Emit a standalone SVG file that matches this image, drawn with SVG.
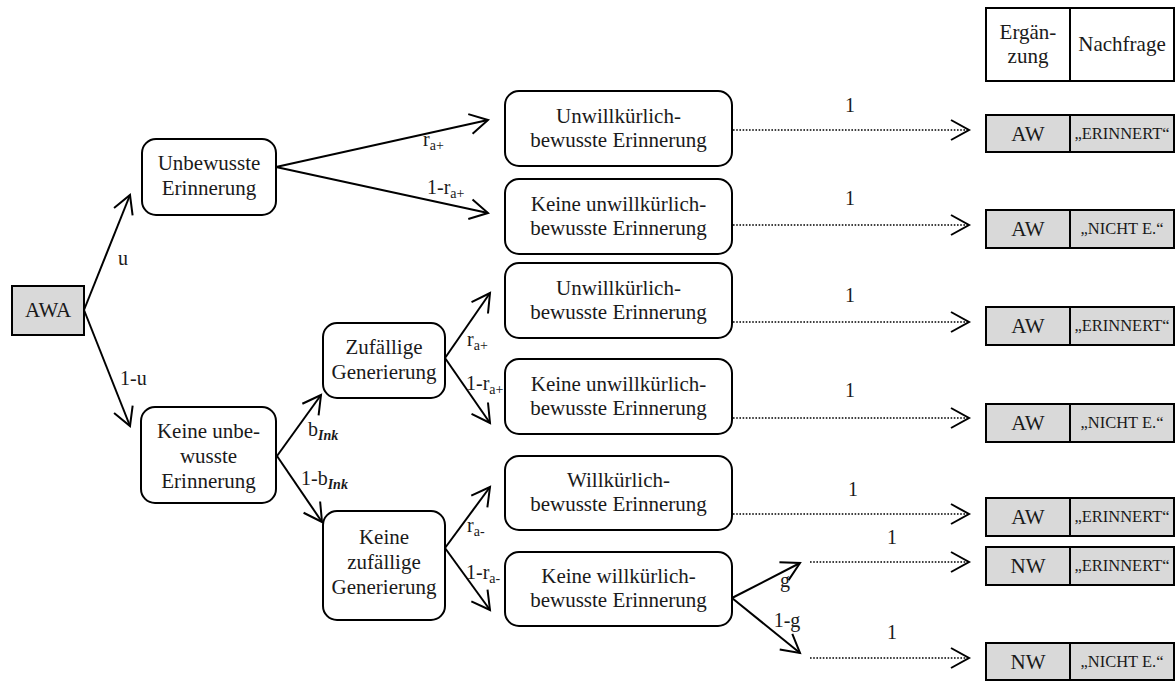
<svg xmlns="http://www.w3.org/2000/svg" width="1176" height="682" viewBox="0 0 1176 682">
  <style>
    text { font-family: "Liberation Serif", "Times New Roman", serif; font-size: 21px; fill: #1a1a1a; }
    .c { text-anchor: middle; }
    .box { fill: #ffffff; stroke: #000000; stroke-width: 2; }
    .grey { fill: #d9d9d9; stroke: #000000; stroke-width: 2; }
    .cell { fill: #d9d9d9; stroke: #000000; stroke-width: 2; }
    .head { fill: #ffffff; stroke: #000000; stroke-width: 2; }
    .small { font-size: 16.5px; }
    .lbl { font-size: 20px; }
    .sub { font-size: 14px; }
    .ink { font-size: 14px; font-style: italic; font-weight: bold; }
    .edge { stroke: #000000; stroke-width: 2; fill: none; marker-end: url(#open); }
    .dot { stroke: #000000; stroke-width: 1.6; stroke-dasharray: 1.6 1.6; fill: none; marker-end: url(#open); }
  </style>
  <defs>
    <marker id="open" viewBox="0 0 20 22" refX="19" refY="11" markerWidth="20" markerHeight="22" markerUnits="userSpaceOnUse" orient="auto" overflow="visible">
      <path d="M1,1 L19,11 L1,21" fill="none" stroke="#000000" stroke-width="2"/>
    </marker>
  </defs>

  <!-- column header of the outcome table -->
  <g id="header">
    <rect class="head" x="986" y="8" width="84" height="73"/>
    <rect class="head" x="1070" y="8" width="104" height="73"/>
    <text class="c" x="1028" y="39">Ergän-</text>
    <text class="c" x="1028" y="63">zung</text>
    <text class="c" x="1122" y="51">Nachfrage</text>
  </g>

  <!-- tree nodes -->
  <g id="awa">
    <rect class="grey" x="12" y="286" width="72" height="49"/>
    <text class="c" x="48" y="317">AWA</text>
  </g>
  <g id="unbewusst">
    <rect class="box" x="142" y="139" width="134" height="76" rx="14"/>
    <text class="c" x="209" y="170">Unbewusste</text>
    <text class="c" x="209" y="195">Erinnerung</text>
  </g>
  <g id="keine-unbewusst">
    <rect class="box" x="141" y="407" width="135" height="96" rx="14"/>
    <text class="c" x="208.5" y="438">Keine unbe-</text>
    <text class="c" x="208.5" y="463">wusste</text>
    <text class="c" x="208.5" y="488">Erinnerung</text>
  </g>
  <g id="zufaellig">
    <rect class="box" x="323" y="323" width="122" height="75" rx="14"/>
    <text class="c" x="384" y="354">Zufällige</text>
    <text class="c" x="384" y="379">Generierung</text>
  </g>
  <g id="keine-zufaellig">
    <rect class="box" x="323" y="511" width="122" height="109" rx="14"/>
    <text class="c" x="384" y="544">Keine</text>
    <text class="c" x="384" y="569">zufällige</text>
    <text class="c" x="384" y="594">Generierung</text>
  </g>

  <g id="uwb-1">
    <rect class="box" x="505" y="91" width="227" height="75" rx="14"/>
    <text class="c" x="618.5" y="123">Unwillkürlich-</text>
    <text class="c" x="618.5" y="147">bewusste Erinnerung</text>
  </g>
  <g id="keine-uwb-1">
    <rect class="box" x="505" y="179" width="227" height="75" rx="14"/>
    <text class="c" x="618.5" y="211">Keine unwillkürlich-</text>
    <text class="c" x="618.5" y="235">bewusste Erinnerung</text>
  </g>
  <g id="uwb-2">
    <rect class="box" x="505" y="263" width="227" height="75" rx="14"/>
    <text class="c" x="618.5" y="295">Unwillkürlich-</text>
    <text class="c" x="618.5" y="319">bewusste Erinnerung</text>
  </g>
  <g id="keine-uwb-2">
    <rect class="box" x="505" y="359" width="227" height="75" rx="14"/>
    <text class="c" x="618.5" y="391">Keine unwillkürlich-</text>
    <text class="c" x="618.5" y="415">bewusste Erinnerung</text>
  </g>
  <g id="wb">
    <rect class="box" x="505" y="456" width="227" height="74" rx="14"/>
    <text class="c" x="618.5" y="487">Willkürlich-</text>
    <text class="c" x="618.5" y="511">bewusste Erinnerung</text>
  </g>
  <g id="keine-wb">
    <rect class="box" x="505" y="552" width="227" height="74" rx="14"/>
    <text class="c" x="618.5" y="583">Keine willkürlich-</text>
    <text class="c" x="618.5" y="607">bewusste Erinnerung</text>
  </g>

  <!-- outcome rows: Ergänzung | Nachfrage -->
  <g id="out-1">
    <rect class="cell" x="986" y="115" width="84" height="37"/>
    <rect class="cell" x="1070" y="115" width="104" height="37"/>
    <text class="c" x="1028" y="141">AW</text>
    <text class="c small" x="1122" y="139">„ERINNERT“</text>
  </g>
  <g id="out-2">
    <rect class="cell" x="986" y="210" width="84" height="38"/>
    <rect class="cell" x="1070" y="210" width="104" height="38"/>
    <text class="c" x="1028" y="236">AW</text>
    <text class="c small" x="1122" y="234">„NICHT E.“</text>
  </g>
  <g id="out-3">
    <rect class="cell" x="986" y="307" width="84" height="38"/>
    <rect class="cell" x="1070" y="307" width="104" height="38"/>
    <text class="c" x="1028" y="333">AW</text>
    <text class="c small" x="1122" y="331">„ERINNERT“</text>
  </g>
  <g id="out-4">
    <rect class="cell" x="986" y="404" width="84" height="38"/>
    <rect class="cell" x="1070" y="404" width="104" height="38"/>
    <text class="c" x="1028" y="430">AW</text>
    <text class="c small" x="1122" y="428">„NICHT E.“</text>
  </g>
  <g id="out-5">
    <rect class="cell" x="986" y="498" width="84" height="38"/>
    <rect class="cell" x="1070" y="498" width="104" height="38"/>
    <text class="c" x="1028" y="524">AW</text>
    <text class="c small" x="1122" y="522">„ERINNERT“</text>
  </g>
  <g id="out-6">
    <rect class="cell" x="986" y="547" width="84" height="38"/>
    <rect class="cell" x="1070" y="547" width="104" height="38"/>
    <text class="c" x="1028" y="573">NW</text>
    <text class="c small" x="1122" y="571">„ERINNERT“</text>
  </g>
  <g id="out-7">
    <rect class="cell" x="986" y="643" width="84" height="37"/>
    <rect class="cell" x="1070" y="643" width="104" height="37"/>
    <text class="c" x="1028" y="669">NW</text>
    <text class="c small" x="1122" y="667">„NICHT E.“</text>
  </g>

  <!-- branches with their probabilities -->
  <g id="connectors">
    <line class="edge" x1="84" y1="310" x2="130" y2="195"/>
    <line class="edge" x1="84" y1="310" x2="130" y2="426"/>
    <line class="edge" x1="276" y1="167" x2="488" y2="120"/>
    <line class="edge" x1="276" y1="167" x2="488" y2="213"/>
    <line class="edge" x1="277" y1="456" x2="321" y2="395"/>
    <line class="edge" x1="277" y1="456" x2="322" y2="522"/>
    <line class="edge" x1="445" y1="358" x2="490" y2="293"/>
    <line class="edge" x1="445" y1="358" x2="490" y2="423"/>
    <line class="edge" x1="445" y1="548" x2="490" y2="487"/>
    <line class="edge" x1="445" y1="548" x2="490" y2="610"/>
    <line class="edge" x1="732" y1="598" x2="800" y2="563"/>
    <line class="edge" x1="732" y1="598" x2="800" y2="653"/>

    <line class="dot" x1="733" y1="130" x2="969" y2="130"/>
    <line class="dot" x1="733" y1="225" x2="969" y2="225"/>
    <line class="dot" x1="733" y1="322" x2="969" y2="322"/>
    <line class="dot" x1="733" y1="418" x2="969" y2="418"/>
    <line class="dot" x1="733" y1="514" x2="969" y2="514"/>
    <line class="dot" x1="810" y1="562" x2="969" y2="562"/>
    <line class="dot" x1="810" y1="658" x2="969" y2="658"/>

    <text class="lbl" x="118" y="265">u</text>
    <text class="lbl" x="120" y="385">1-u</text>
    <text class="lbl" x="423" y="146">r<tspan class="sub" dy="4">a+</tspan></text>
    <text class="lbl" x="427" y="194">1-r<tspan class="sub" dy="4">a+</tspan></text>
    <text class="lbl" x="308" y="436">b<tspan class="ink" dy="4">Ink</tspan></text>
    <text class="lbl" x="301" y="485">1-b<tspan class="ink" dy="4">Ink</tspan></text>
    <text class="lbl" x="467" y="346">r<tspan class="sub" dy="4">a+</tspan></text>
    <text class="lbl" x="466" y="390">1-r<tspan class="sub" dy="4">a+</tspan></text>
    <text class="lbl" x="467" y="532">r<tspan class="sub" dy="4">a-</tspan></text>
    <text class="lbl" x="466" y="579">1-r<tspan class="sub" dy="4">a-</tspan></text>
    <text class="lbl c" x="785" y="587">g</text>
    <text class="lbl c" x="787" y="627">1-g</text>

    <text class="lbl c" x="850" y="112">1</text>
    <text class="lbl c" x="850" y="205">1</text>
    <text class="lbl c" x="850" y="302">1</text>
    <text class="lbl c" x="850" y="397">1</text>
    <text class="lbl c" x="853" y="496">1</text>
    <text class="lbl c" x="892" y="544">1</text>
    <text class="lbl c" x="892" y="639">1</text>
  </g>
</svg>
